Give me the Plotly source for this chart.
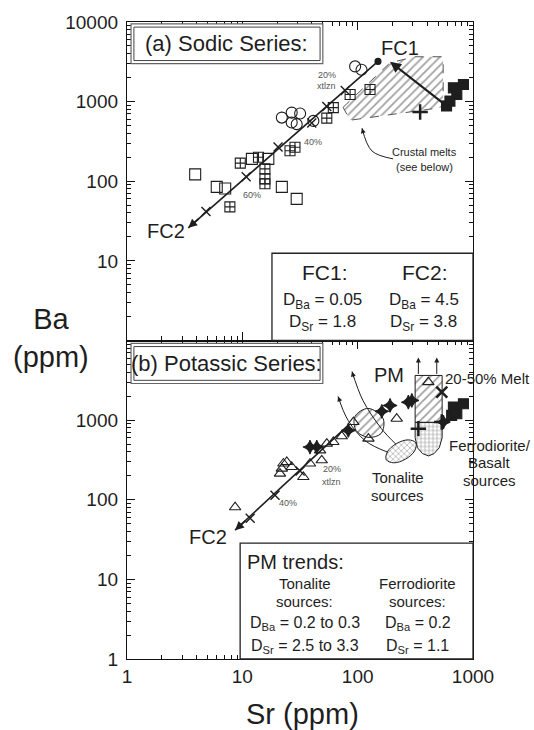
import numpy as np
import plotly.graph_objects as go

FONT = "Liberation Sans, Arial, sans-serif"
INK = "#1e1e1e"
GREY = "#555555"

# ---------------- Panel (a): Sodic series ----------------
a_circle_sr = [22.0, 26.8, 31.7, 29.6, 41.3, 26.8, 95.0, 108.0]
a_circle_ba = [630, 728, 708, 521, 573, 547, 2770, 2510]
a_sqcross_sr = [9.6, 13.8, 25.9, 28.6, 54.0, 61.5, 86.0, 128.0, 15.7, 15.7, 15.7, 7.8]
a_sqcross_ba = [169, 200, 242, 267, 620, 841, 1230, 1420, 143, 107, 93, 47.7]
a_square_sr = [3.9, 6.0, 7.1, 22.0, 29.6, 16.8, 12.1]
a_square_ba = [122, 85, 81, 85, 60, 191, 191]
a_black_sq_sr = [676, 826, 724, 631, 590]
a_black_sq_ba = [1490, 1640, 1230, 1016, 880]
a_plus_sr = [348]
a_plus_ba = [741]

# FC2 crystallisation path and its step marks
a_fc2_sr = [3.4, 150]
a_fc2_ba = [26, 3200]
a_step_sr = [4.84, 10.8, 20.4, 40, 54, 78]
a_step_ba = [41.7, 114, 269, 540, 870, 1380]
# FC1 vector (tail -> head)
a_fc1_sr = [596, 191]
a_fc1_ba = [873, 3170]
# crustal-melt field outline
a_melt_sr = [74.7, 191, 315, 551, 551, 86, 74.7]
a_melt_ba = [848, 3080, 3660, 3660, 848, 584, 848]
# leader from the "Crustal melts" note
a_lead_sr = [203, 133, 109]
a_lead_ba = [191, 240, 464]

# ---------------- Panel (b): Potassic series ----------------
b_tri_sr = [8.66, 21.2, 22.7, 24.3, 26.8, 22.0, 33.8, 38.6, 48.8, 54, 47.2, 61.5, 72.8, 91.8, 124, 218, 410]
b_tri_ba = [80.5, 213, 285, 298, 258, 246, 193, 285, 313, 507, 417, 531, 626, 946, 585, 1042, 3000]
b_star_sr = [38.6, 44.2, 83, 162, 191, 275, 295, 554]
b_star_ba = [459, 459, 743, 1290, 1530, 1680, 1770, 946]
b_x_sr = [536]
b_x_ba = [2250]
b_black_sq_sr = [826, 676, 653, 724]
b_black_sq_ba = [1607, 1459, 1148, 1200]
b_plus_sr = [336, 536]
b_plus_ba = [781, 946]

b_fc2_sr = [8.65, 82.6]
b_fc2_ba = [41.5, 860]
b_step_sr = [11.7, 19.2, 31.7]
b_step_ba = [58.6, 114, 230]

# melt fields and source regions
b_pm_sr = [94.9, 123, 166, 160, 123, 96.9, 94.9]
b_pm_ba = [1114, 1403, 1052, 682, 608, 743, 1114]
b_tonalite_sr = [319, 312, 260, 206, 177, 181, 217, 275, 319]
b_tonalite_ba = [519, 411, 324, 291, 318, 400, 508, 565, 519]
b_meltbox_sr = [315, 540, 540, 315, 315]
b_meltbox_ba = [3640, 3640, 937, 937, 3640]
b_ferro_sr = [315, 540, 540, 510, 460, 412, 365, 330, 315, 315]
b_ferro_ba = [937, 937, 600, 450, 380, 355, 380, 450, 600, 937]
# partial-melting trends from the tonalite sources
b_trendA_sr = [184, 118, 82.6, 67.6]
b_trendA_ba = [394, 542, 993, 1986]
b_trendB_sr = [215, 160, 111, 89.4]
b_trendB_ba = [497, 788, 1770, 4080]

L = np.log10
fig = go.Figure()

TOP = dict(xaxis="x2", yaxis="y2")
BOT = dict(xaxis="x", yaxis="y")


def pts(sr, ba, where, symbol, size=10, color=INK, fill=None, lw=1.1):
    fig.add_trace(go.Scatter(
        x=sr, y=ba, mode="markers", showlegend=False, hoverinfo="skip",
        marker=dict(symbol=symbol, size=size, color=fill or color,
                    line=dict(color=color, width=lw)), **where))


def region(sr, ba, where, pattern, dash="solid", lc=INK, size=6, spline=False, sol=0.3):
    fig.add_trace(go.Scatter(
        x=sr, y=ba, mode="lines", fill="toself", showlegend=False, hoverinfo="skip",
        fillcolor="rgba(255,255,255,0)",
        fillpattern=dict(shape=pattern, fgcolor="#444444", bgcolor="white",
                         size=size, solidity=sol),
        line=dict(color=lc, width=1, dash=dash, shape="spline" if spline else "linear"),
        **where))


def line(sr, ba, where, width=1.6, spline=False, color=INK):
    fig.add_trace(go.Scatter(
        x=sr, y=ba, mode="lines", showlegend=False, hoverinfo="skip",
        line=dict(color=color, width=width, shape="spline" if spline else "linear"),
        **where))


def arrow(tip, tail, where, width=1.6, size=1.1):
    xr, yr = where["xaxis"], where["yaxis"]
    fig.add_annotation(x=L(tip[0]), y=L(tip[1]), ax=L(tail[0]), ay=L(tail[1]),
                       xref=xr, yref=yr, axref=xr, ayref=yr, text="",
                       showarrow=True, arrowhead=2, arrowsize=size,
                       arrowwidth=width, arrowcolor=INK, standoff=0)


def label(sr, ba, text, where, size=10, color=GREY, **kw):
    kw.setdefault("xanchor", "center")
    kw.setdefault("yanchor", "middle")
    fig.add_annotation(x=L(sr), y=L(ba), xref=where["xaxis"], yref=where["yaxis"],
                       text=text, showarrow=False,
                       font=dict(family=FONT, size=size, color=color), **kw)


def dlabel(x, y, text, panel, size=17, **kw):
    kw.setdefault("xanchor", "center")
    kw.setdefault("yanchor", "middle")
    fig.add_annotation(x=x, y=y, xref="x domain" if panel == "b" else "x2 domain",
                       yref="y domain" if panel == "b" else "y2 domain",
                       text=text, showarrow=False,
                       font=dict(family=FONT, size=size, color=INK), **kw)


def box(x0, x1, y0, y1, panel, width=1.2, color="#333"):
    fig.add_shape(type="rect", x0=x0, x1=x1, y0=y0, y1=y1,
                  xref="x domain" if panel == "b" else "x2 domain",
                  yref="y domain" if panel == "b" else "y2 domain",
                  line=dict(color=color, width=width), fillcolor="white", layer="above")


# ----- panel (a) drawing -----
region(a_melt_sr, a_melt_ba, TOP, "/", dash="dash", lc="#555", size=6)
line(a_lead_sr, a_lead_ba, TOP, width=1, spline=True)
arrow((a_lead_sr[-1], a_lead_ba[-1]), (112, 400), TOP, width=1, size=1)
line(a_fc2_sr, a_fc2_ba, TOP, width=1.6)
pts(a_step_sr, a_step_ba, TOP, "x-thin-open", size=9, lw=1.4)
pts([a_fc2_sr[-1]], [a_fc2_ba[-1]], TOP, "circle", size=6)
arrow((a_fc2_sr[0], a_fc2_ba[0]), (4.3, 35), TOP)
arrow((a_fc1_sr[1], a_fc1_ba[1]), (a_fc1_sr[0], a_fc1_ba[0]), TOP, width=2.2, size=1)
pts(a_circle_sr, a_circle_ba, TOP, "circle-open", size=11)
pts(a_square_sr, a_square_ba, TOP, "square-open", size=11)
pts(a_sqcross_sr, a_sqcross_ba, TOP, "square-cross-open", size=10)
pts(a_black_sq_sr, a_black_sq_ba, TOP, "square", size=10)
pts(a_plus_sr, a_plus_ba, TOP, "cross-thin-open", size=11, lw=2.5)

label(12.1, 66.5, "60%", TOP, size=9)
label(41, 311, "40%", TOP, size=9)
label(54, 2186, "20%", TOP, size=9)
label(54, 1563, "xtlzn", TOP, size=9)
label(233, 4740, "FC1", TOP, size=20, color=INK)
label(2.18, 23.5, "FC2", TOP, size=20, color=INK)
dlabel(0.861, 0.592, "Crustal melts", "a", size=11)
dlabel(0.861, 0.545, "(see below)", "a", size=11)

# ----- panel (b) drawing -----
region(b_meltbox_sr, b_meltbox_ba, BOT, "/", size=6)
region(b_ferro_sr, b_ferro_ba, BOT, "+", size=4, sol=0.3)
region(b_tonalite_sr, b_tonalite_ba, BOT, "x", size=4, spline=True, sol=0.3)
region(b_pm_sr, b_pm_ba, BOT, "/", size=6, spline=True)
line(b_trendA_sr, b_trendA_ba, BOT, width=1, spline=True)
line(b_trendB_sr, b_trendB_ba, BOT, width=1, spline=True)
arrow((b_trendA_sr[-1], b_trendA_ba[-1]), (71, 1650), BOT, width=1, size=1)
arrow((b_trendB_sr[-1], b_trendB_ba[-1]), (93, 3300), BOT, width=1, size=1)
arrow((336, 6120), (336, 3640), BOT, width=1, size=1)
arrow((485, 6120), (485, 3640), BOT, width=1, size=1)
line(b_fc2_sr, b_fc2_ba, BOT, width=1.6)
pts(b_step_sr, b_step_ba, BOT, "x-thin-open", size=9, lw=1.4)
arrow((b_fc2_sr[0], b_fc2_ba[0]), (11, 57), BOT)
pts(b_tri_sr, b_tri_ba, BOT, "triangle-up-open", size=10)
pts(b_star_sr, b_star_ba, BOT, "star-diamond", size=10)
pts(b_x_sr, b_x_ba, BOT, "x-thin-open", size=11, lw=2.5)
pts(b_black_sq_sr, b_black_sq_ba, BOT, "square", size=10)
pts(b_plus_sr, b_plus_ba, BOT, "cross-thin-open", size=11, lw=2.5)

label(24.9, 90.4, "40%", BOT, size=9)
label(59.6, 246, "20%", BOT, size=9)
label(59.6, 167, "xtlzn", BOT, size=9)
label(4.99, 33.9, "FC2", BOT, size=20, color=INK)
label(187, 3640, "PM", BOT, size=20, color=INK)
dlabel(1.043, 0.880, "20-50% Melt", "b", size=15)
dlabel(1.049, 0.671, "Ferrodiorite/", "b", size=15)
dlabel(1.049, 0.618, "Basalt", "b", size=15)
dlabel(1.049, 0.561, "sources", "b", size=15)
dlabel(0.783, 0.571, "Tonalite", "b", size=15)
dlabel(0.783, 0.514, "sources", "b", size=15)

# ----- panel headers -----
box(0.0116, 0.566, 0.869, 0.994, "a", width=1.2, color="#666")
box(0.020, 0.558, 0.879, 0.984, "a", width=1.0, color="#444")
dlabel(0.289, 0.931, "(a) Sodic Series:", "a", size=22)
box(0.0116, 0.566, 0.865, 0.991, "b", width=1.2, color="#666")
box(0.020, 0.558, 0.875, 0.981, "b", width=1.0, color="#444")
dlabel(0.289, 0.928, "(b) Potassic Series:", "b", size=22)

# ----- partition-coefficient boxes -----
box(0.419, 1.0, 0.0, 0.274, "a", width=1.3, color="#222")
dlabel(0.572, 0.212, "FC1:", "a", size=21)
dlabel(0.861, 0.212, "FC2:", "a", size=21)
dlabel(0.566, 0.125, "D<sub>Ba</sub> = 0.05", "a", size=17)
dlabel(0.566, 0.056, "D<sub>Sr</sub> = 1.8", "a", size=17)
dlabel(0.858, 0.125, "D<sub>Ba</sub> = 4.5", "a", size=17)
dlabel(0.858, 0.056, "D<sub>Sr</sub> = 3.8", "a", size=17)

box(0.327, 1.0, 0.0, 0.364, "b", width=1.3, color="#222")
dlabel(0.341, 0.304, "PM trends:", "b", size=20, xanchor="left")
dlabel(0.514, 0.238, "Tonalite", "b", size=15)
dlabel(0.514, 0.179, "sources:", "b", size=15)
dlabel(0.514, 0.110, "D<sub>Ba</sub> = 0.2 to 0.3", "b", size=16)
dlabel(0.514, 0.038, "D<sub>Sr</sub> = 2.5 to 3.3", "b", size=16)
dlabel(0.841, 0.238, "Ferrodiorite", "b", size=15)
dlabel(0.841, 0.179, "sources:", "b", size=15)
dlabel(0.841, 0.110, "D<sub>Ba</sub> = 0.2", "b", size=16)
dlabel(0.841, 0.038, "D<sub>Sr</sub> = 1.1", "b", size=16)

# ----- axis titles -----
fig.add_annotation(x=(51 - 127) / 346, y=(659 - 335) / 642, xref="paper", yref="paper",
                   text="Ba<br>(ppm)", showarrow=False, xanchor="center", yanchor="middle",
                   font=dict(family=FONT, size=29, color=INK))
fig.add_annotation(x=(302 - 127) / 346, y=(659 - 714) / 642, xref="paper", yref="paper",
                   text="Sr (ppm)", showarrow=False, xanchor="center", yanchor="middle",
                   font=dict(family=FONT, size=29, color=INK))

# ----- axes -----
minor_vals = [k * 10 ** e for e in range(0, 4) for k in range(2, 10)]
common = dict(type="log", showgrid=False, zeroline=False, showline=True,
              linecolor="#111", linewidth=1.3, mirror="allticks", ticks="inside",
              ticklen=8, tickwidth=1.2, tickcolor="#111",
              tickfont=dict(family=FONT, size=19, color=INK),
              minor=dict(tickmode="array", tickvals=minor_vals, ticks="inside",
                         ticklen=4, tickcolor="#111", showgrid=False))

fig.update_layout(
    width=534, height=730, margin=dict(l=127, r=61, t=17, b=71),
    paper_bgcolor="white", plot_bgcolor="white", showlegend=False,
    xaxis=dict(common, domain=[0, 1], anchor="y", range=[0, 3],
               tickmode="array", tickvals=[1, 10, 100, 1000],
               ticktext=["1", "10", "100", "1000"]),
    yaxis=dict(common, domain=[0, 0.5], anchor="x", range=[0, 4],
               tickmode="array", tickvals=[1, 10, 100, 1000, 10000],
               ticktext=["1", "10", "100", "1000", ""], ticklabelstandoff=4),
    xaxis2=dict(common, domain=[0, 1], anchor="y2", range=[0, 3], matches="x",
                tickmode="array", tickvals=[1, 10, 100, 1000], showticklabels=False),
    yaxis2=dict(common, domain=[0.5, 1], anchor="x2", range=[0, 4],
                tickmode="array", tickvals=[1, 10, 100, 1000, 10000],
                ticktext=["", "10", "100", "1000", "10000"], ticklabelstandoff=4),
)

fig.write_html("out.html")
